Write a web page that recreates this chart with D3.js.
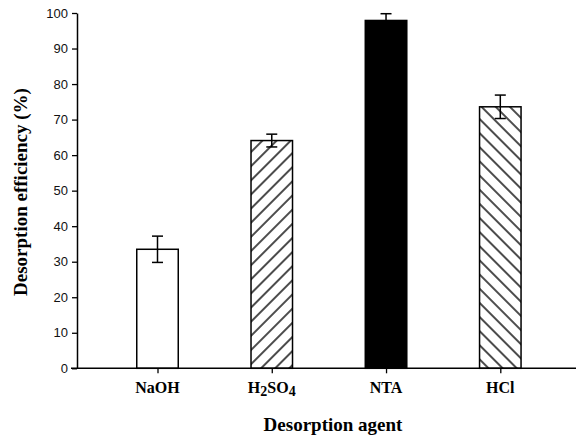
<!DOCTYPE html>
<html>
<head>
<meta charset="utf-8">
<script src="https://cdnjs.cloudflare.com/ajax/libs/d3/7.8.5/d3.min.js"></script>
<style>
  body { margin: 0; background: #fff; }
  svg { display: block; }
</style>
</head>
<body>
<div id="chart"></div>
<script>
// data
const agents = ["NaOH", "H2SO4", "NTA", "HCl"];
const efficiency = [33.5, 64.1, 97.9, 73.6];
const errors = [3.7, 1.8, 1.9, 3.3];
const fills = ["white", "url(#hatchFwd)", "black", "url(#hatchBack)"];
const yTicks = [0, 10, 20, 30, 40, 50, 60, 70, 80, 90, 100];

const W = 576, H = 438;
const svg = d3.select("#chart").append("svg")
    .attr("width", W)
    .attr("height", H);

// hatch patterns
const defs = svg.append("defs");
function hatch(id, angle) {
    const p = defs.append("pattern")
        .attr("id", id)
        .attr("patternUnits", "userSpaceOnUse")
        .attr("width", 10)
        .attr("height", 10)
        .attr("patternTransform", "rotate(" + angle + ")");
    p.append("rect").attr("width", 10).attr("height", 10).attr("fill", "white");
    p.append("line")
        .attr("x1", 5).attr("y1", 0)
        .attr("x2", 5).attr("y2", 10)
        .attr("stroke", "black")
        .attr("stroke-width", 1.4);
}
hatch("hatchFwd", 45);
hatch("hatchBack", -45);

// scales
const x = d3.scalePoint()
    .domain(agents)
    .range([157.5, 500.3]);
const y = d3.scaleLinear()
    .domain([0, 100])
    .range([368.3, 13]);
const barW = 41.5;

// bars
svg.selectAll(".bar")
    .data(agents)
    .enter()
    .append("rect")
    .attr("class", "bar")
    .attr("x", d => x(d) - barW / 2)
    .attr("y", (d, i) => y(efficiency[i]))
    .attr("width", barW)
    .attr("height", (d, i) => y(0) - y(efficiency[i]))
    .attr("fill", (d, i) => fills[i])
    .attr("stroke", "black")
    .attr("stroke-width", 1.5);

// error bars
const capW = 11;
const err = svg.selectAll(".err")
    .data(agents)
    .enter()
    .append("g")
    .attr("class", "err")
    .attr("stroke", "black")
    .attr("stroke-width", 1.5);
err.append("line")
    .attr("x1", d => x(d)).attr("x2", d => x(d))
    .attr("y1", (d, i) => y(efficiency[i] + errors[i]))
    .attr("y2", (d, i) => y(efficiency[i] - errors[i]));
err.append("line")
    .attr("x1", d => x(d) - capW / 2).attr("x2", d => x(d) + capW / 2)
    .attr("y1", (d, i) => y(efficiency[i] + errors[i]))
    .attr("y2", (d, i) => y(efficiency[i] + errors[i]));
err.append("line")
    .attr("x1", d => x(d) - capW / 2).attr("x2", d => x(d) + capW / 2)
    .attr("y1", (d, i) => y(efficiency[i] - errors[i]))
    .attr("y2", (d, i) => y(efficiency[i] - errors[i]));

// y axis
const yAxis = svg.append("g")
    .attr("transform", "translate(77,0)")
    .call(d3.axisLeft(y).tickValues(yTicks).tickSize(5).tickSizeOuter(0).tickPadding(4));
yAxis.select(".domain").attr("stroke-width", 1.5);
yAxis.selectAll(".tick line").attr("stroke-width", 1.3);
yAxis.selectAll(".tick text")
    .attr("font-family", "Liberation Sans, Arial, sans-serif")
    .attr("font-size", 13)
    .attr("fill", "#111");

// x axis
const xAxis = svg.append("g")
    .attr("transform", "translate(0," + y(0) + ")")
    .call(d3.axisBottom(x).tickSize(5).tickSizeOuter(0).tickFormat(""));
xAxis.select(".domain").remove();
xAxis.selectAll(".tick line").attr("stroke-width", 1.3);
svg.append("line")
    .attr("x1", 71).attr("x2", 576)
    .attr("y1", y(0)).attr("y2", y(0))
    .attr("stroke", "black")
    .attr("stroke-width", 1.5);

// category labels with subscripts
const labels = svg.selectAll(".cat")
    .data(agents)
    .enter()
    .append("text")
    .attr("class", "cat")
    .attr("x", d => x(d))
    .attr("y", 393)
    .attr("text-anchor", "middle")
    .attr("font-family", "Liberation Serif, Times New Roman, serif")
    .attr("font-weight", "bold")
    .attr("font-size", 16);
labels.each(function (d) {
    const t = d3.select(this);
    const parts = d.match(/[A-Za-z]+|\d+/g);
    let shift = 0;
    parts.forEach(s => {
        const sub = /\d/.test(s);
        const target = sub ? 3 : 0;
        const ts = t.append("tspan").attr("dy", target - shift).text(s);
        if (sub) ts.attr("font-size", 14);
        shift = target;
    });
});

// axis titles
svg.append("text")
    .attr("x", 333)
    .attr("y", 431)
    .attr("text-anchor", "middle")
    .attr("font-family", "Liberation Serif, Times New Roman, serif")
    .attr("font-weight", "bold")
    .attr("font-size", 19)
    .text("Desorption agent");

svg.append("text")
    .attr("transform", "translate(27,192) rotate(-90)")
    .attr("text-anchor", "middle")
    .attr("font-family", "Liberation Serif, Times New Roman, serif")
    .attr("font-weight", "bold")
    .attr("font-size", 19)
    .text("Desorption efficiency (%)");
</script>
</body>
</html>
